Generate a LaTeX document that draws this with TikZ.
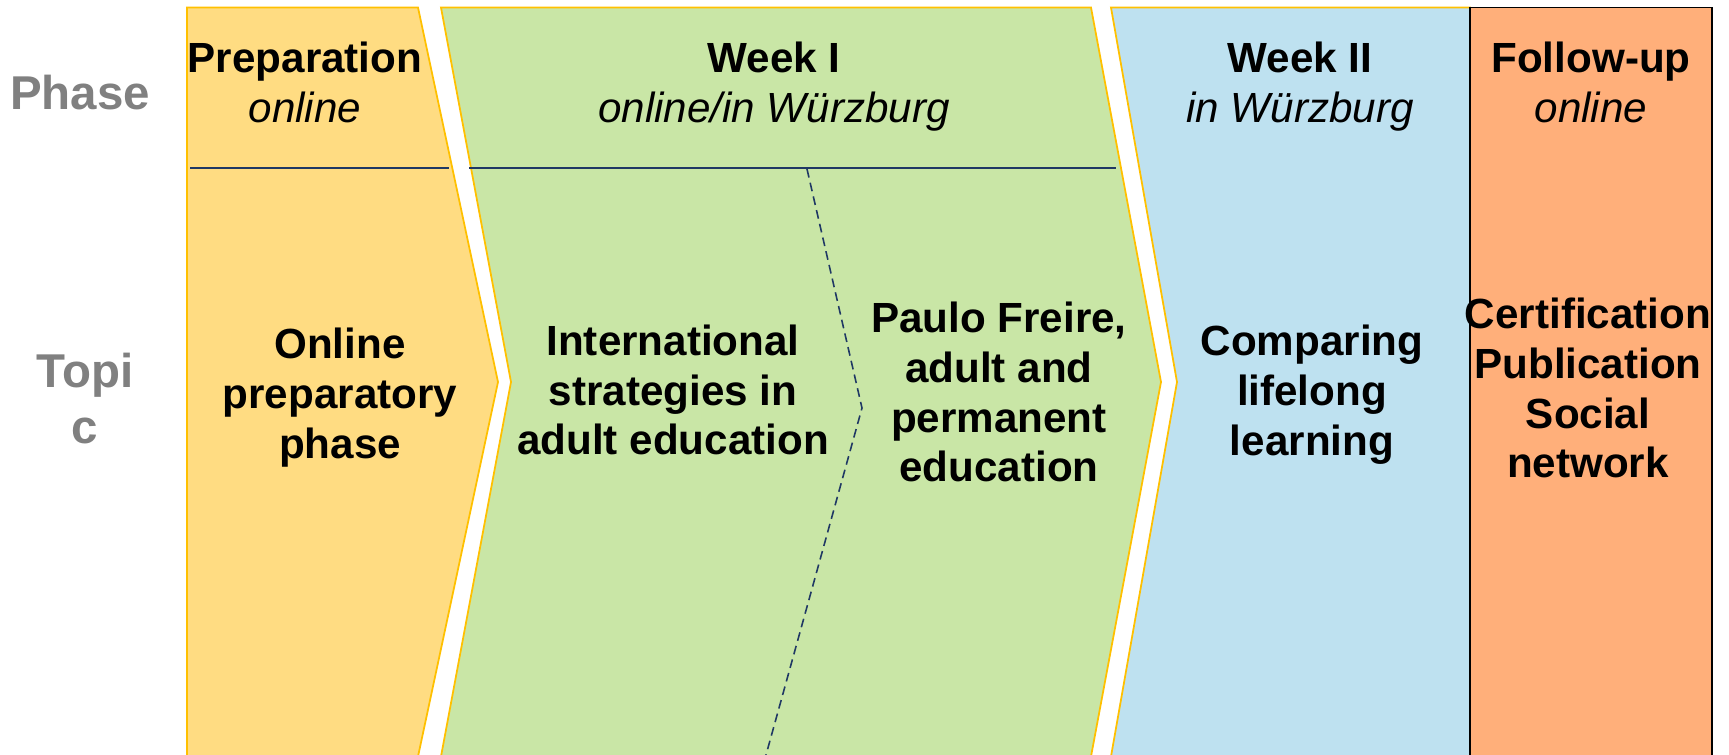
\documentclass[tikz,border=0pt]{standalone}
\usepackage{fontspec}
\setmainfont{Liberation Sans}
\usepackage{tikz}

\definecolor{prepfill}{HTML}{FFDC82}
\definecolor{weekfill}{HTML}{C9E6A6}
\definecolor{stayfill}{HTML}{BEE1F0}
\definecolor{followfill}{HTML}{FFAF7A}
\definecolor{goldline}{HTML}{FFC000}
\definecolor{navyline}{HTML}{1F3864}
\definecolor{greytext}{HTML}{808080}

\begin{document}
\begin{tikzpicture}[x=0.1mm, y=-0.1mm, band/.style={draw=goldline, line width=0.5pt}, divider/.style={draw=navyline, line width=0.6pt}, rowname/.style={text=greytext, font=\fontsize{13.5}{16.2}\selectfont\bfseries, align=center}, head/.style={font=\fontsize{12}{14.2}\selectfont, align=center}, topic/.style={font=\fontsize{12}{14.2}\selectfont\bfseries, align=center}]
\clip (0,0) rectangle (1729,755);
\fill [white] (0,0) rectangle (1729,755);
\filldraw [band, fill=prepfill] (187,7.5) -- (418,7.5) -- (498,382) -- (418,756.5) -- (187,756.5) -- cycle;
\filldraw [band, fill=weekfill] (441,7.5) -- (1091,7.5) -- (1161,382) -- (1091,756.5) -- (441,756.5) -- (511,382) -- cycle;
\filldraw [band, fill=stayfill] (1111,7.5) -- (1470,7.5) -- (1470,756.5) -- (1111,756.5) -- (1177,382) -- cycle;
\filldraw [draw=black, line width=0.4pt, fill=followfill] (1470,7.5) rectangle (1712,756.5);
\draw [divider] (190,168) -- (449,168);
\draw [divider] (469,168) -- (1116,168);
\draw [navyline, line width=0.45pt, dash pattern=on 2.5pt off 1.5pt] (807,169) -- (862,408) -- (766,755);
\node (PHASE) [rowname] at (80,92.5) {Phase};
\node (TOPIC) [rowname] at (85,398.5) {Topi\\c};
\node (PREP) [head] at (305,82.5) {\textbf{Preparation}\\\textit{online}};
\node (WEEKONE) [head] at (774,87) {\textbf{Week I}\\\textit{online/in Würzburg}};
\node (WEEKTWO) [head] at (1300,87) {\textbf{Week II}\\\textit{in Würzburg}};
\node (FOLLOW) [head] at (1591,82.5) {\textbf{Follow-up}\\\textit{online}};
\node (ONLINE) [topic] at (340,397.5) {Online\\preparatory\\phase};
\node (STRATEGY) [topic] at (673,390) {International\\strategies in\\adult education};
\node (FREIRE) [topic] at (999,392) {Paulo Freire,\\adult and\\permanent\\education};
\node (COMPARE) [topic] at (1312,394.5) {Comparing\\lifelong\\learning};
\node (CERT) [topic] at (1588,388) {Certification\\Publication\\Social\\network};
\end{tikzpicture}
\end{document}
